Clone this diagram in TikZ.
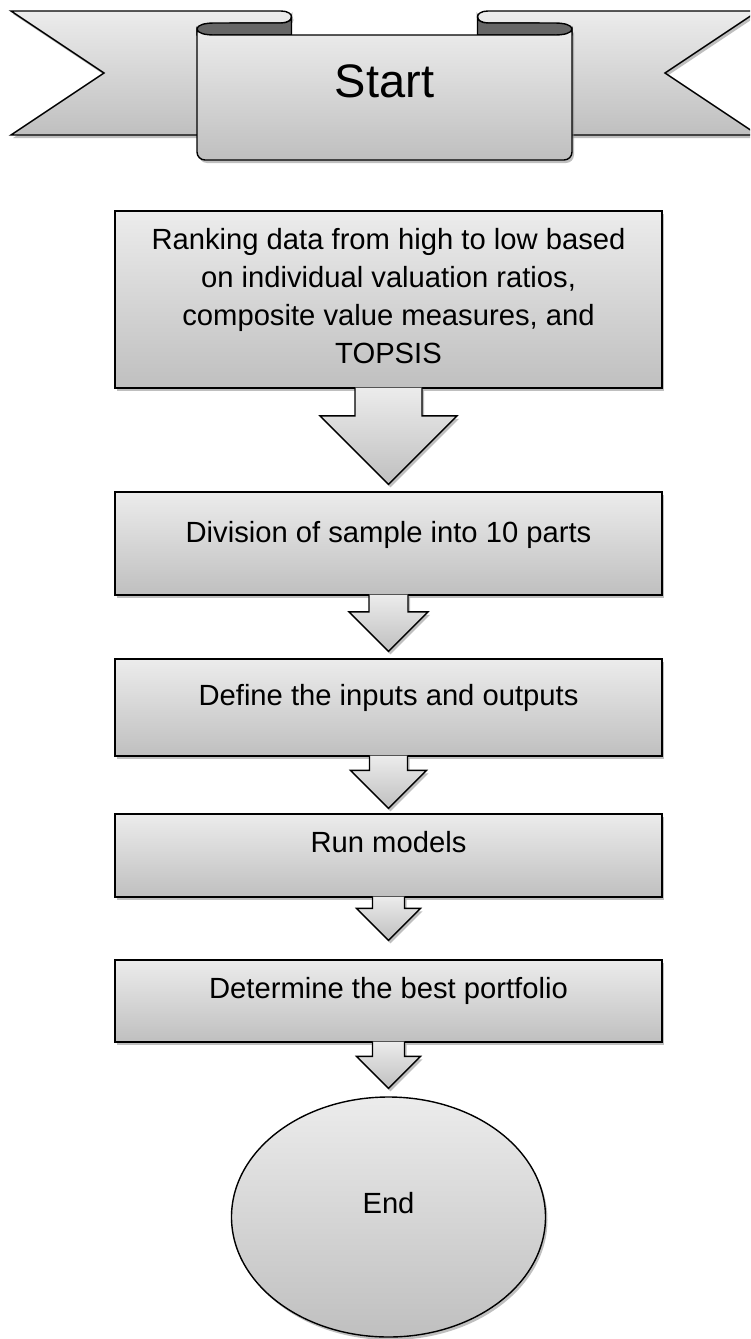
\documentclass[tikz,border=0pt]{standalone}
\usepackage{fontspec}
\setmainfont{Liberation Sans}
\usetikzlibrary{positioning,calc,shapes.geometric,shadows}

\tikzset{
  shade box/.style={top color=gray!15, bottom color=gray!50},
  soft shadow/.style={drop shadow={shadow xshift=2pt,shadow yshift=-3pt,fill=black!50,opacity=.5}},
  procbox/.style={rectangle, draw=black, line width=1.4pt, shade box, soft shadow,
    minimum width=547pt, inner sep=0pt, align=center,
    font=\fontsize{29.2}{38}\selectfont},
  oneline/.style={text height=21pt, text depth=#1},
  endnode/.style={ellipse, draw=black, line width=1.4pt, shade box, soft shadow,
    minimum width=314pt, minimum height=240pt, inner sep=0pt,
    text height=21pt, text depth=29pt, font=\fontsize{29.2}{38}\selectfont},
  ribbon/.style={draw=black, line width=1.4pt, shade box, soft shadow},
  fold/.style={draw=black, line width=1.4pt, fill=black!60},
  flowarrow/.style={draw=black, line width=1.4pt, shade box, soft shadow}
}

% block arrow: from, to, shaft half width, head half width, gap to target
\newcommand{\blockdown}[5]{%
  \draw[flowarrow] ($(#1.south)+(-#3,-1)$) -- ($(#2.north)+(-#3,-#5-#4)$)
    -- ($(#2.north)+(-#4,-#5-#4)$) -- ($(#2.north)+(0,-#5)$)
    -- ($(#2.north)+(#4,-#5-#4)$) -- ($(#2.north)+(#3,-#5-#4)$)
    -- ($(#1.south)+(#3,-1)$);}

\begin{document}
\begin{tikzpicture}[x=1pt,y=-1pt]
\useasboundingbox (0,0) rectangle (750,1339);
\clip (0,0) rectangle (750,1339);

% start banner
\draw[ribbon] (230,135) -- (11,135) -- (104,73) -- (11,11) -- (281,11)
  .. controls (295,11) and (295,23) .. (281,23) -- (230,23) -- cycle;
\draw[ribbon] (539,135) -- (758,135) -- (665,73) -- (758,11) -- (488,11)
  .. controls (474,11) and (474,23) .. (488,23) -- (539,23) -- cycle;
\draw[fold] (197,35) -- (197,29) .. controls (197,25) and (205,23) .. (214,23)
  -- (281,23) .. controls (288,23) and (291.5,20) .. (291.5,17) -- (291.5,35) -- cycle;
\draw[fold] (572,35) -- (572,29) .. controls (572,25) and (564,23) .. (555,23)
  -- (488,23) .. controls (481,23) and (477.5,20) .. (477.5,17) -- (477.5,35) -- cycle;
\draw[ribbon] (197,29) .. controls (197,33) and (205,35) .. (214,35) -- (555,35)
  .. controls (564,35) and (572,33) .. (572,29) -- (572,152)
  .. controls (572,156.4) and (568.4,160) .. (564,160) -- (205,160)
  .. controls (200.6,160) and (197,156.4) .. (197,152) -- cycle;
\node[font=\fontsize{47}{50}\selectfont, text height=34pt, text depth=0pt, inner sep=0pt] (start) at (384.5,80) {Start};

% steps
\node[procbox, minimum height=177pt, text depth=6.3pt] (rank) at (388.5,299.5)
  {Ranking data from high to low based\\on individual valuation ratios,\\composite value measures, and\\TOPSIS};
\node[procbox, oneline=24pt, minimum height=103pt, below=102.6pt of rank] (divide) {Division of sample into 10 parts};
\node[procbox, oneline=26pt, minimum height=97pt, below=62.6pt of divide] (define) {Define the inputs and outputs};
\node[procbox, oneline=28pt, minimum height=83pt, below=56.6pt of define] (run) {Run models};
\node[procbox, oneline=27pt, minimum height=82pt, below=61.6pt of run] (best) {Determine the best portfolio};
\node[endnode, below=53.6pt of best] (finish) {End};

% arrows
\blockdown{rank}{divide}{33.5}{68.5}{7}
\blockdown{divide}{define}{19.5}{39.5}{7}
\blockdown{define}{run}{19}{38}{5}
\blockdown{run}{best}{16}{32}{19}
\blockdown{best}{finish}{16}{32}{8}
\end{tikzpicture}
\end{document}
